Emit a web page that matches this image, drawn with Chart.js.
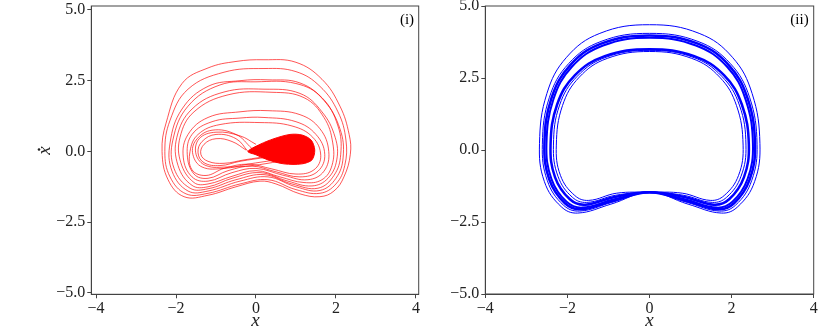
<!DOCTYPE html>
<html>
<head>
<meta charset="utf-8">
<script src="https://cdn.jsdelivr.net/npm/chart.js@4.4.1/dist/chart.umd.min.js"></script>
<style>
  body { margin: 0; background: #fff; width: 830px; height: 329px; overflow: hidden; position: relative; }
  canvas { position: absolute; top: 0; }
  #left { left: 0; }
  #right { left: 420px; }
</style>
</head>
<body>
<canvas id="left" width="420" height="329"></canvas>
<canvas id="right" width="410" height="329"></canvas>
<script>
const xTicks = [-4, -2, 0, 2, 4];
const xTickLabels = ['−4', '−2', '0', '2', '4'];
const yTicks = [-5, -2.5, 0, 2.5, 5];
const yTickLabels = ['−5.0', '−2.5', '0.0', '2.5', '5.0'];

// panel (i): loops going round both wells as [x, xdot]
// (each loop is closed back onto its first point when drawn)
const redOuterLoops = [
  [[0.1,-1.05],[0.5,-1.15],[1.1,-1.5],[1.6,-1.6],[1.95,-1.4],[2.2,-0.9],[2.36,-0.1],[2.33,0.6],[2.1,1.6],[1.65,2.55],[1.0,3.15],[0.2,3.24],[-0.5,3.18],[-1.2,2.95],[-1.85,2.4],[-2.25,1.0],[-2.35,0.0],[-2.2,-1.0],[-1.8,-1.6],[-1.2,-1.55],[-0.5,-1.25]],
  [[0.3,-1.0],[1.0,-1.35],[1.6,-1.48],[2.0,-1.15],[2.22,-0.5],[2.25,0.4],[2.05,1.4],[1.6,2.3],[1.0,2.82],[0.2,2.93],[-0.8,2.8],[-1.7,2.2],[-2.15,1.1],[-2.28,0.0],[-2.15,-0.9],[-1.75,-1.5],[-1.2,-1.48],[-0.4,-1.15]],
  [[0.3,-0.9],[1.0,-1.25],[1.6,-1.38],[2.0,-0.95],[2.18,-0.2],[2.1,0.8],[1.7,1.8],[1.1,2.42],[0.3,2.53],[-0.4,2.5],[-1.2,2.3],[-1.85,1.5],[-2.15,0.3],[-2.1,-0.7],[-1.7,-1.4],[-1.2,-1.4],[-0.4,-1.05]],
  [[0.2,-0.82],[0.9,-1.15],[1.55,-1.3],[1.95,-0.85],[2.12,-0.1],[2.05,0.9],[1.65,1.9],[1.0,2.4],[0.0,2.46],[-0.9,2.35],[-1.7,1.6],[-2.08,0.4],[-2.05,-0.6],[-1.65,-1.3],[-1.2,-1.32],[-0.5,-1.0]],
  [[0.1,-0.75],[0.8,-1.05],[1.4,-1.22],[1.8,-0.95],[2.02,-0.3],[1.98,0.5],[1.65,1.4],[1.1,2.05],[0.2,2.2],[-0.8,2.1],[-1.6,1.5],[-1.98,0.5],[-1.95,-0.5],[-1.6,-1.2],[-1.2,-1.25],[-0.6,-0.95]],
  [[0.0,-0.68],[0.6,-0.9],[1.2,-1.1],[1.65,-1.0],[1.9,-0.5],[1.92,0.3],[1.7,1.2],[1.2,1.9],[0.4,2.09],[-0.7,2.0],[-1.55,1.4],[-1.9,0.5],[-1.88,-0.4],[-1.55,-1.1],[-1.2,-1.15],[-0.6,-0.88]],
  [[0.0,-0.6],[0.7,-0.85],[1.3,-1.0],[1.7,-0.7],[1.82,0.0],[1.6,0.8],[1.1,1.3],[0.3,1.44],[-0.4,1.4],[-1.2,1.2],[-1.7,0.6],[-1.82,-0.2],[-1.6,-0.9],[-1.2,-1.05],[-0.6,-0.75]],
  [[-0.1,-0.52],[0.5,-0.72],[1.1,-0.9],[1.55,-0.7],[1.72,-0.1],[1.5,0.6],[1.0,1.05],[0.2,1.2],[-0.4,1.18],[-1.1,1.05],[-1.6,0.6],[-1.72,-0.1],[-1.55,-0.8],[-1.2,-0.95],[-0.7,-0.68]],
  [[-0.2,-0.45],[0.4,-0.62],[1.0,-0.8],[1.45,-0.65],[1.62,-0.15],[1.42,0.5],[0.9,0.9],[0.1,1.02],[-0.9,0.95],[-1.45,0.6],[-1.65,0.0],[-1.6,-0.65],[-1.25,-0.85],[-0.8,-0.6]]
];
// open arcs round the left well only
const redWellLoops = [
  [[0.3,-0.2],[-0.4,-0.35],[-0.9,-0.5],[-1.3,-0.4],[-1.45,-0.05],[-1.35,0.35],[-1.0,0.6],[-0.5,0.45],[-0.2,0.0]],
  [[0.4,-0.15],[-0.3,-0.3],[-0.8,-0.42],[-1.2,-0.35],[-1.38,-0.1],[-1.3,0.25],[-1.0,0.45],[-0.6,0.35],[-0.25,0.05]],
  [[0.5,-0.3],[-0.2,-0.45],[-0.8,-0.6],[-1.35,-0.55],[-1.58,-0.1],[-1.5,0.4],[-1.1,0.75],[-0.5,0.6],[-0.1,0.1]],
  [[0.6,-0.35],[-0.1,-0.5],[-0.7,-0.55],[-1.25,-0.5],[-1.5,-0.1],[-1.42,0.45],[-1.0,0.68],[-0.4,0.55],[0.0,0.25]]
];
// the dense region round the right well (drawn filled)
const redBlob = [[-0.2,0.0],[0.1,0.25],[0.45,0.45],[0.85,0.6],[1.15,0.58],[1.38,0.4],[1.47,0.05],[1.4,-0.3],[1.15,-0.44],[0.7,-0.44],[0.3,-0.3],[0.0,-0.12]];

// panel (ii): the bands of the blue orbit
const blueLoops = [
  [[0,-1.47],[0.94,-1.88],[1.75,-2.19],[2.15,-1.97],[2.56,-1.10],[2.69,0.22],[2.50,1.96],[2.02,3.22],[1.21,4.05],[0,4.35],[-1.21,4.05],[-2.02,3.22],[-2.50,1.96],[-2.68,0.22],[-2.56,-1.10],[-2.15,-1.97],[-1.75,-2.19],[-0.94,-1.88]],
  [[0,-1.47],[0.92,-1.82],[1.70,-2.12],[2.10,-1.91],[2.49,-1.06],[2.62,0.2],[2.44,1.82],[1.97,3.0],[1.18,3.77],[0,4.05],[-1.18,3.77],[-1.97,3.0],[-2.44,1.82],[-2.61,0.2],[-2.49,-1.06],[-2.10,-1.91],[-1.70,-2.12],[-0.92,-1.82]],
  [[0,-1.47],[0.90,-1.77],[1.67,-2.06],[2.06,-1.85],[2.44,-1.03],[2.57,0.2],[2.39,1.79],[1.93,2.95],[1.16,3.70],[0,3.98],[-1.16,3.70],[-1.93,2.95],[-2.39,1.79],[-2.56,0.2],[-2.44,-1.03],[-2.06,-1.85],[-1.67,-2.06],[-0.90,-1.77]],
  [[0,-1.47],[0.88,-1.72],[1.64,-2.0],[2.02,-1.8],[2.39,-1.0],[2.52,0.2],[2.34,1.76],[1.89,2.89],[1.13,3.63],[0,3.9],[-1.13,3.63],[-1.89,2.89],[-2.34,1.76],[-2.51,0.2],[-2.39,-1.0],[-2.02,-1.8],[-1.64,-2.0],[-0.88,-1.72]],
  [[0,-1.47],[0.85,-1.63],[1.57,-1.9],[1.94,-1.71],[2.30,-0.95],[2.42,0.18],[2.25,1.58],[1.82,2.59],[1.09,3.26],[0,3.5],[-1.09,3.26],[-1.82,2.59],[-2.25,1.58],[-2.41,0.18],[-2.30,-0.95],[-1.94,-1.71],[-1.57,-1.9],[-0.85,-1.63]],
  [[0,-1.47],[0.82,-1.57],[1.53,-1.82],[1.88,-1.64],[2.23,-0.91],[2.35,0.17],[2.19,1.56],[1.76,2.56],[1.06,3.22],[0,3.46],[-1.06,3.22],[-1.76,2.56],[-2.19,1.56],[-2.34,0.17],[-2.23,-0.91],[-1.88,-1.64],[-1.53,-1.82],[-0.82,-1.57]],
  [[0,-1.47],[0.80,-1.5],[1.48,-1.75],[1.82,-1.58],[2.17,-0.88],[2.28,0.17],[2.12,1.54],[1.71,2.53],[1.03,3.18],[0,3.42],[-1.03,3.18],[-1.71,2.53],[-2.12,1.54],[-2.27,0.17],[-2.17,-0.88],[-1.82,-1.58],[-1.48,-1.75],[-0.80,-1.5]]
];
const blueWidths = [1, 1, 2.5, 2, 2.5, 1, 1];

const serif = "'Liberation Serif', 'DejaVu Serif', serif";
const inkColor = '#222';
const spineColor = '#444';

function toPoints(arr) {
  return arr.map(p => ({ x: p[0], y: p[1] }));
}

function lineSet(arr, color, width, closed) {
  return {
    data: toPoints(arr), showLine: true, pointRadius: 0,
    borderColor: color, borderWidth: width, tension: 0.4, fill: false,
    closedLoop: closed
  };
}

// make the line element wrap round like a radar line, so closed loops stay smooth
const closeLoops = {
  id: 'closeLoops',
  afterDatasetsUpdate(chart) {
    chart.data.datasets.forEach((ds, i) => {
      if (!ds.closedLoop) return;
      const line = chart.getDatasetMeta(i).dataset;
      if (!line) return;
      line._loop = true;
      line._fullLoop = true;
      line._pointsUpdated = false;
      line._segments = undefined;
      line._path = undefined;
    });
  }
};

// frame on all four sides, axis titles and the panel tag
function decorPlugin(tag, tagX, xTitleX, withYTitle) {
  return {
    id: 'decor',
    afterDraw(chart) {
      const ctx = chart.ctx;
      const a = chart.chartArea;
      ctx.save();
      ctx.strokeStyle = spineColor;
      ctx.lineWidth = 1;
      ctx.strokeRect(a.left, a.top, a.right - a.left, a.bottom - a.top);

      ctx.fillStyle = '#000';
      ctx.font = '15px ' + serif;
      ctx.textAlign = 'center';
      ctx.textBaseline = 'middle';
      ctx.fillText(tag, tagX, 20);

      ctx.fillStyle = inkColor;
      ctx.font = 'italic 19px ' + serif;
      ctx.textBaseline = 'alphabetic';
      ctx.fillText('x', xTitleX, 326);

      if (withYTitle) {
        ctx.translate(50, 150.5);
        ctx.rotate(-Math.PI / 2);
        ctx.fillText('x', 0, 0);
        ctx.beginPath();
        ctx.arc(1, -11, 1.3, 0, Math.PI * 2);
        ctx.fill();
      }
      ctx.restore();
    }
  };
}

function buildChart(id, datasets, xLim, yLim, yWidth, xHeight, pad, decor) {
  return new Chart(document.getElementById(id), {
    type: 'scatter',
    data: { datasets: datasets },
    options: {
      responsive: false,
      animation: false,
      devicePixelRatio: 1,
      layout: { padding: pad },
      plugins: { legend: { display: false }, tooltip: { enabled: false } },
      scales: {
        x: {
          type: 'linear', min: xLim[0], max: xLim[1],
          afterBuildTicks: s => { s.ticks = xTicks.map(v => ({ value: v })); },
          afterFit: s => { s.height = xHeight; s.paddingLeft = 0; s.paddingRight = 0; },
          ticks: {
            callback: v => xTickLabels[xTicks.indexOf(v)],
            font: { family: serif, size: 16 }, color: inkColor,
            padding: 1, maxRotation: 0, autoSkip: false
          },
          grid: { drawOnChartArea: false, tickLength: 4, color: spineColor },
          border: { color: spineColor }
        },
        y: {
          type: 'linear', min: yLim[0], max: yLim[1],
          afterBuildTicks: s => { s.ticks = yTicks.map(v => ({ value: v })); },
          afterFit: s => { s.width = yWidth; s.paddingTop = 0; s.paddingBottom = 0; },
          ticks: {
            callback: v => yTickLabels[yTicks.indexOf(v)],
            font: { family: serif, size: 16 }, color: inkColor,
            padding: 2, autoSkip: false
          },
          grid: { drawOnChartArea: false, tickLength: 4, color: spineColor },
          border: { color: spineColor }
        }
      }
    },
    plugins: [closeLoops, decor]
  });
}

function drawAll() {
  const redSets = [];
  redOuterLoops.forEach(l => redSets.push(lineSet(l, 'rgba(255,0,0,0.75)', 0.9, true)));
  redWellLoops.forEach(l => redSets.push(lineSet(l, 'rgba(255,0,0,0.75)', 0.9, false)));
  const blob = lineSet(redBlob, '#ff0000', 1, true);
  blob.tension = 0.3;
  blob.backgroundColor = '#ff0000';
  blob.fill = 'shape';
  redSets.push(blob);

  const blueSets = blueLoops.map((l, i) => lineSet(l, '#0000ff', blueWidths[i], true));

  buildChart('left', redSets, [-4.12, 4.07], [-5.05, 5.14], 91.3, 34.7,
    { top: 6, right: 1.3, left: 0, bottom: 0 }, decorPlugin('(i)', 407, 255.5, true));
  buildChart('right', blueSets, [-4, 4], [-5, 5], 65.3, 35,
    { top: 6, right: 16.3, left: 0, bottom: 0 }, decorPlugin('(ii)', 379.5, 229.5, false));
}

Promise.all([
  document.fonts.load("16px 'Liberation Serif'"),
  document.fonts.load("italic 19px 'Liberation Serif'")
]).then(drawAll, drawAll);
</script>
</body>
</html>
